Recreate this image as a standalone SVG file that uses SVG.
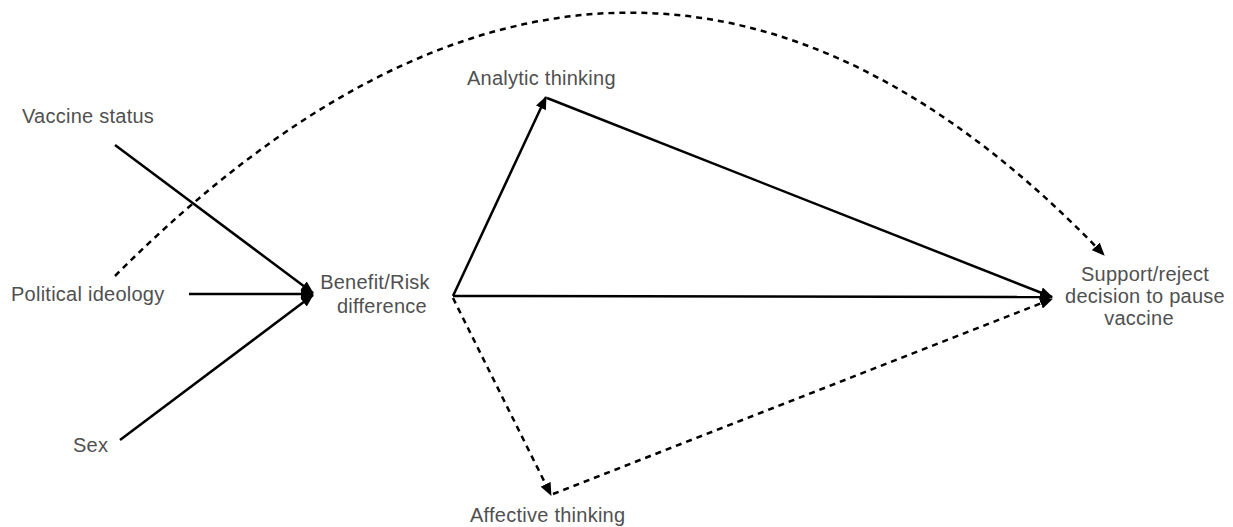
<svg xmlns="http://www.w3.org/2000/svg" width="1233" height="527" viewBox="0 0 1233 527">
<style>
text{font-family:"Liberation Sans",Arial,sans-serif;font-size:20px;letter-spacing:0.25px;fill:#505050}
.c{stroke:#000;stroke-width:2.5;fill:none}
.d{stroke-dasharray:6 5}
</style>
<defs>
<marker id="ah" viewBox="0 0 13 11" refX="12" refY="5.5" markerWidth="13" markerHeight="11" markerUnits="userSpaceOnUse" orient="auto">
<path d="M0,0 L13,5.5 L0,11 z" fill="#000"/>
</marker>
</defs>
<rect width="1233" height="527" fill="#fff"/>
<g id="connectors">
<path class="c" d="M115,145 L313,293" marker-end="url(#ah)"/>
<path class="c" d="M189,294 L313,294" marker-end="url(#ah)"/>
<path class="c" d="M120,440 L313,295" marker-end="url(#ah)"/>
<path class="c" d="M453,296 L546,97" marker-end="url(#ah)"/>
<path class="c" d="M547,98 L1052,297" marker-end="url(#ah)"/>
<path class="c" d="M453,296 L1052,297" marker-end="url(#ah)"/>
<path class="c d" d="M453,298 L551,495" marker-end="url(#ah)"/>
<path class="c d" d="M553,494 L1052,299" marker-end="url(#ah)"/>
<path class="c d" d="M115,276 Q630,-240 1104,255" marker-end="url(#ah)"/>
</g>
<g id="vaccine-status"><text x="22" y="123">Vaccine status</text></g>
<g id="political-ideology"><text x="11" y="301">Political ideology</text></g>
<g id="sex"><text x="73" y="452">Sex</text></g>
<g id="benefit-risk"><text text-anchor="middle"><tspan x="375" y="289">Benefit/Risk</tspan><tspan x="382" y="313">difference</tspan></text></g>
<g id="analytic"><text x="467" y="85">Analytic thinking</text></g>
<g id="affective"><text x="470" y="522">Affective thinking</text></g>
<g id="support"><text text-anchor="middle"><tspan x="1145" y="281">Support/reject</tspan><tspan x="1145" y="303">decision to pause</tspan><tspan x="1139" y="325">vaccine</tspan></text></g>
</svg>
